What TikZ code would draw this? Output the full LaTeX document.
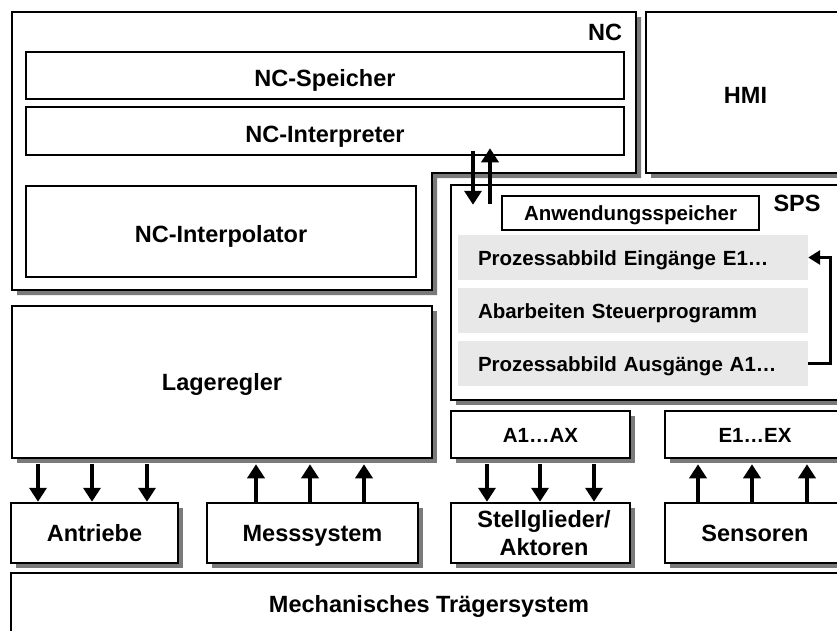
\documentclass[tikz,border=0pt]{standalone}
\usepackage{fontspec}
\setmainfont{Liberation Sans}
\usetikzlibrary{arrows.meta,calc,shadows}

\definecolor{shadowgray}{HTML}{7A7A7A}
\definecolor{rowgray}{HTML}{E8E8E8}
\newcommand\labfont{\fontsize{23.5}{28}\selectfont\bfseries}
\newcommand\rowfont{\fontsize{20.5}{24}\selectfont\bfseries}

\tikzset{
  sz/.style 2 args={minimum width=#1pt, minimum height=#2pt},
  box/.style={draw=black, line width=2.5pt, fill=white, inner sep=0pt,
    align=center, font=\labfont, text height=17pt, text depth=0pt},
  lowtext/.style={text height=22pt},
  smalltext/.style={font=\rowfont, text height=15pt},
  shbox/.style={box, drop shadow={shadow xshift=5pt, shadow yshift=-5pt,
    fill=shadowgray, opacity=1}},
  row/.style={fill=rowgray, minimum width=350pt, minimum height=45pt,
    text width=310pt, align=left, inner sep=0pt, font=\rowfont,
    text height=16pt, text depth=0pt},
  arr/.style={line width=3.5pt, -{Triangle[length=14pt,width=17pt]}},
  fb/.style={line width=3pt, -{Triangle[length=12pt,width=14pt]}},
}

\begin{document}
\begin{tikzpicture}[x=1pt,y=-1pt]
\useasboundingbox (0,0) rectangle (837,630);
\clip (0,0) rectangle (837,630);
\fill[white] (0,0) rectangle (837,630);

% NC block (L-shaped) with its shadow
\begin{scope}[shift={(5,5)}]
  \fill[shadowgray] (12,12) -- (636,12) -- (636,173) -- (432,173)
    -- (432,290) -- (12,290) -- cycle;
\end{scope}
\draw[line width=2.5pt, fill=white] (12,12) -- (636,12) -- (636,173)
  -- (432,173) -- (432,290) -- (12,290) -- cycle;
\node[font=\labfont] (nclabel) at (605,32) {NC};

\node[box, lowtext, sz={598}{47}] (spei) at (325,75.5) {NC-Speicher};
\node[box, lowtext, sz={598}{48}] (interp) at (325,131) {NC-Interpreter};
\node[box, lowtext, sz={390}{91}] (ipol) at (221,231.5) {NC-Interpolator};

% HMI
\node[shbox, lowtext, sz={199}{161}] (hmi) at (745.5,92.5) {HMI};

% SPS
\node[shbox, sz={394}{215}] (sps) at (648,292.5) {};
\node[font=\labfont] (spslabel) at (797,203) {SPS};
\node[box, smalltext, sz={257}{34}] (anw) at (630.5,213) {Anwendungsspeicher};
\node[row] (r1) at (633,257.5) {Prozessabbild Eingänge E1…};
\node[row] (r2) at (633,310) {Abarbeiten Steuerprogramm};
\node[row] (r3) at (633,363.5) {Prozessabbild Ausgänge A1…};
\draw[fb] (r3.east) -- ++(22,0) |- (r1.east);

% NC <-> SPS
\draw[arr] ($(interp.south -| 473,0)+(0,-5)$) -- ($(sps.north -| 473,0)+(0,21)$);
\draw[arr] ($(sps.north -| 490,0)+(0,20)$) -- ($(interp.south -| 490,0)+(0,-8)$);

% Lageregler and I/O images
\node[shbox, sz={420}{152}] (lage) at (222,382) {Lageregler};
\node[shbox, smalltext, sz={179}{47}] (aout) at (540.5,434.5) {A1…AX};
\node[shbox, smalltext, sz={180}{47}] (ein) at (755,434.5) {E1…EX};

% field level
\node[shbox, sz={167}{60}] (antr) at (94.5,533) {Antriebe};
\node[shbox, sz={211}{60}] (mess) at (312.5,533) {Messsystem};
\node[shbox, text height=45pt, sz={179}{60}] (stell) at (540.5,533)
  {\hspace*{7pt}Stellglieder/\\\hspace*{7pt}Aktoren};
\node[shbox, sz={180}{60}] (sens) at (755,533) {Sensoren};
\node[shbox, text depth=5pt, sz={836}{67}] (mech) at (429,606.5) {Mechanisches Trägersystem};

\foreach \x in {38,92,147}
  \draw[arr] ($(lage.south -| \x,0)+(0,5)$) -- (antr.north -| \x,0);
\foreach \x in {256,310,364}
  \draw[arr] (mess.north -| \x,0) -- ($(lage.south -| \x,0)+(0,5)$);
\foreach \x in {487,540,594}
  \draw[arr] ($(aout.south -| \x,0)+(0,5)$) -- (stell.north -| \x,0);
\foreach \x in {698,752,807}
  \draw[arr] (sens.north -| \x,0) -- ($(ein.south -| \x,0)+(0,5)$);
\end{tikzpicture}
\end{document}
